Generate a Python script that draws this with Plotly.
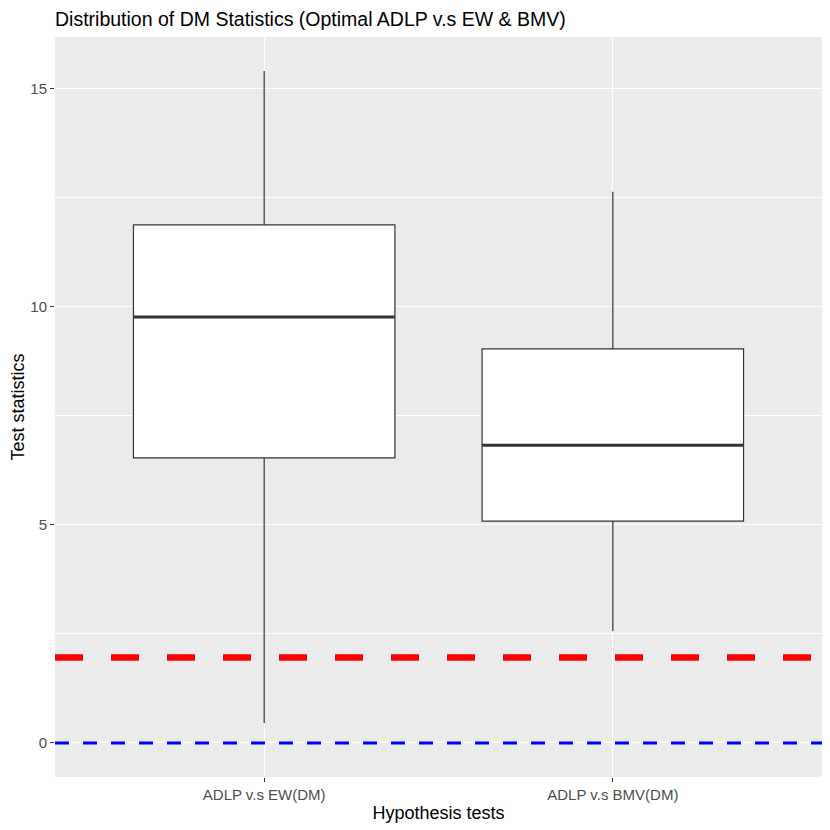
import plotly.graph_objects as go

tests = ["ADLP v.s EW(DM)", "ADLP v.s BMV(DM)"]
positions = [1, 2]
lower = [0.46, 2.57]
q1 = [6.54, 5.09]
median = [9.77, 6.83]
q3 = [11.88, 9.04]
upper = [15.41, 12.64]
crit_value = 1.96
zero_value = 0.0

box_width = 0.75

fig = go.Figure()

fig.add_trace(go.Box(
    x=positions, q1=q1, median=median, q3=q3,
    lowerfence=lower, upperfence=upper,
    width=box_width, whiskerwidth=0,
    fillcolor="white", line=dict(color="#333333", width=1.2),
    boxpoints=False, showlegend=False, hoverinfo="skip",
))

# thicker median bars like ggplot
for p, m in zip(positions, median):
    fig.add_trace(go.Scatter(
        x=[p - box_width / 2, p + box_width / 2], y=[m, m], mode="lines",
        line=dict(color="#333333", width=3), showlegend=False, hoverinfo="skip",
    ))

fig.add_hline(y=crit_value, line=dict(color="red", width=6.5, dash="28px,28px"), layer="above")
fig.add_hline(y=zero_value, line=dict(color="blue", width=3, dash="14px,14px"), layer="above")

# page body adds an 8px margin, so the figure is 822 wide
W = 822
fig.update_layout(
    width=W, height=W,
    margin=dict(l=47, r=8, t=29, b=53, autoexpand=False),
    paper_bgcolor="white", plot_bgcolor="#EBEBEB",
    font=dict(family="Liberation Sans, Arial", color="black"),
    title=dict(text="Distribution of DM Statistics (Optimal ADLP v.s EW & BMV)",
               x=47 / W, xanchor="left", y=1 - 11.5 / W, yanchor="middle",
               font=dict(size=19.5, color="black"), automargin=False),
)

fig.update_xaxes(
    range=[0.4, 2.6], tickvals=positions, ticktext=tests, automargin=False,
    showgrid=True, gridcolor="white", gridwidth=1.2, zeroline=False,
    ticks="outside", ticklen=4, tickcolor="#333333", tickwidth=1.1,
    tickfont=dict(size=15, color="#4D4D4D"),
    title=dict(text="Hypothesis tests", font=dict(size=18), standoff=4),
)
fig.update_yaxes(
    range=[-0.78, 16.19], tickvals=[0, 5, 10, 15], automargin=False,
    showgrid=True, gridcolor="white", gridwidth=1.2, zeroline=False,
    minor=dict(tickvals=[2.5, 7.5, 12.5], showgrid=True, gridcolor="white", gridwidth=0.6),
    ticks="outside", ticklen=4, tickcolor="#333333", tickwidth=1.1,
    tickfont=dict(size=15, color="#4D4D4D"),
    title=dict(text="Test statistics", font=dict(size=18), standoff=2),
)

fig.write_html("out.html")
